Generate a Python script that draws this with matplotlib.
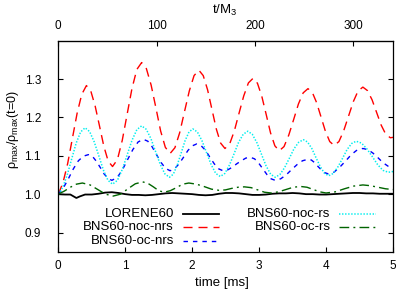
import numpy as np
import matplotlib
matplotlib.use("Agg")
import matplotlib.pyplot as plt

plt.rcParams['font.family'] = ['Liberation Sans', 'DejaVu Sans']
plt.rcParams['mathtext.fontset'] = 'custom'
plt.rcParams['mathtext.rm'] = 'Liberation Sans'
plt.rcParams['lines.scale_dashes'] = False

# --- data (time in ms, rho_max / rho_max(t=0)) ---
lorene_t = [0, 0.1, 0.18, 0.22, 0.27, 0.32, 0.4, 0.5, 0.6, 0.7, 0.8, 0.9, 1.0,
            1.1, 1.2, 1.3, 1.4, 1.5, 1.6, 1.7, 1.8, 1.9, 2.0, 2.1, 2.2, 2.3,
            2.4, 2.5, 2.6, 2.7, 2.8, 2.9, 3.0, 3.1, 3.2, 3.3, 3.4, 3.5, 3.6,
            3.7, 3.8, 3.9, 4.0, 4.1, 4.2, 4.3, 4.4, 4.5, 4.6, 4.7, 4.8, 4.9, 5.0]
lorene_v = [1.000, 0.999, 0.999, 0.995, 0.990, 0.994, 0.999, 0.999, 1.001,
            1.004, 1.005, 1.003, 1.000, 0.998, 0.998, 0.997, 0.998, 1.000,
            1.002, 1.003, 1.002, 1.001, 1.000, 0.998, 0.997, 0.998, 1.001,
            1.003, 1.003, 1.002, 1.000, 0.998, 0.998, 0.999, 1.001, 1.002,
            1.002, 1.003, 1.002, 1.000, 1.000, 0.999, 0.999, 1.000, 1.001,
            1.002, 1.003, 1.003, 1.002, 1.002, 1.001, 1.001, 1.001]

noc_nrs_t = [0, 0.07, 0.14, 0.21, 0.28, 0.35, 0.42,
             0.485, 0.55, 0.615, 0.68, 0.745, 0.81,
             0.883, 0.955, 1.028, 1.10, 1.173, 1.245,
             1.316, 1.387, 1.458, 1.528, 1.599, 1.67,
             1.742, 1.813, 1.885, 1.957, 2.028, 2.10,
             2.165, 2.23, 2.295, 2.36, 2.425, 2.49,
             2.56, 2.63, 2.70, 2.77, 2.84, 2.91,
             2.975, 3.04, 3.105, 3.17, 3.235, 3.30,
             3.372, 3.443, 3.515, 3.587, 3.658, 3.73,
             3.795, 3.86, 3.925, 3.99, 4.055, 4.12,
             4.192, 4.263, 4.335, 4.407, 4.478, 4.55,
             4.618, 4.687, 4.755, 4.823, 4.892, 4.96, 5.0]
noc_nrs_v = [1.000, 1.030, 1.080, 1.145, 1.210, 1.260, 1.283,
             1.269, 1.230, 1.178, 1.125, 1.086, 1.072,
             1.090, 1.140, 1.208, 1.275, 1.325, 1.343,
             1.327, 1.284, 1.225, 1.165, 1.122, 1.106,
             1.121, 1.160, 1.215, 1.269, 1.309, 1.323,
             1.309, 1.272, 1.221, 1.170, 1.133, 1.119,
             1.131, 1.165, 1.211, 1.256, 1.290, 1.302,
             1.289, 1.255, 1.208, 1.160, 1.126, 1.113,
             1.124, 1.154, 1.194, 1.235, 1.264, 1.275,
             1.265, 1.238, 1.201, 1.164, 1.137, 1.127,
             1.137, 1.165, 1.203, 1.241, 1.269, 1.279,
             1.270, 1.246, 1.213, 1.180, 1.156, 1.147, 1.148]

oc_nrs_t = [0, 0.075, 0.15, 0.225, 0.3, 0.375, 0.45,
            0.508, 0.567, 0.625, 0.683, 0.742, 0.80,
            0.878, 0.957, 1.035, 1.113, 1.192, 1.27,
            1.337, 1.403, 1.47, 1.537, 1.603, 1.67,
            1.737, 1.803, 1.87, 1.937, 2.003, 2.07,
            2.135, 2.20, 2.265, 2.33, 2.395, 2.46,
            2.528, 2.597, 2.665, 2.733, 2.802, 2.87,
            2.932, 2.993, 3.055, 3.117, 3.178, 3.24,
            3.322, 3.403, 3.485, 3.567, 3.648, 3.73,
            3.78, 3.83, 3.88, 3.93, 3.98, 4.03,
            4.117, 4.203, 4.29, 4.377, 4.463, 4.55,
            4.625, 4.70, 4.775, 4.85, 4.925, 5.0]
oc_nrs_v = [1.000, 1.016, 1.040, 1.066, 1.087, 1.099, 1.103,
            1.099, 1.086, 1.070, 1.053, 1.041, 1.036,
            1.043, 1.063, 1.090, 1.116, 1.136, 1.143,
            1.138, 1.123, 1.102, 1.082, 1.067, 1.061,
            1.066, 1.079, 1.096, 1.114, 1.126, 1.131,
            1.126, 1.114, 1.096, 1.079, 1.066, 1.061,
            1.063, 1.070, 1.079, 1.087, 1.094, 1.096,
            1.092, 1.081, 1.066, 1.051, 1.040, 1.036,
            1.040, 1.050, 1.064, 1.077, 1.087, 1.091,
            1.089, 1.082, 1.072, 1.063, 1.056, 1.053,
            1.057, 1.070, 1.086, 1.103, 1.115, 1.119,
            1.116, 1.107, 1.095, 1.082, 1.073, 1.070]

noc_rs_t = [0, 0.067, 0.133, 0.2, 0.267, 0.333, 0.40,
            0.468, 0.537, 0.605, 0.673, 0.742, 0.81,
            0.883, 0.955, 1.028, 1.100, 1.173, 1.245,
            1.314, 1.383, 1.453, 1.522, 1.591, 1.66,
            1.718, 1.777, 1.835, 1.893, 1.952, 2.01,
            2.078, 2.147, 2.215, 2.283, 2.352, 2.42,
            2.488, 2.557, 2.625, 2.693, 2.762, 2.83,
            2.898, 2.967, 3.035, 3.103, 3.172, 3.24,
            3.31, 3.38, 3.45, 3.52, 3.59, 3.66,
            3.723, 3.787, 3.85, 3.913, 3.977, 4.04,
            4.108, 4.177, 4.245, 4.313, 4.382, 4.45,
            4.53, 4.61, 4.69, 4.77, 4.85, 4.93, 5.0]
noc_rs_v = [1.000, 1.018, 1.050, 1.092, 1.133, 1.162, 1.173,
            1.163, 1.136, 1.100, 1.063, 1.036, 1.026,
            1.036, 1.064, 1.102, 1.140, 1.168, 1.178,
            1.169, 1.145, 1.111, 1.078, 1.053, 1.044,
            1.052, 1.076, 1.107, 1.139, 1.162, 1.170,
            1.162, 1.139, 1.108, 1.077, 1.054, 1.046,
            1.054, 1.076, 1.105, 1.135, 1.156, 1.164,
            1.156, 1.134, 1.104, 1.074, 1.052, 1.044,
            1.051, 1.069, 1.093, 1.118, 1.135, 1.142,
            1.136, 1.119, 1.095, 1.072, 1.054, 1.048,
            1.054, 1.071, 1.093, 1.116, 1.132, 1.138,
            1.133, 1.118, 1.098, 1.077, 1.062, 1.057, 1.059]

oc_rs_t = [0, 0.09, 0.18, 0.27, 0.36,
           0.475, 0.59, 0.705, 0.82,
           0.93, 1.04, 1.15, 1.26,
           1.34, 1.42, 1.50, 1.58,
           1.673, 1.765, 1.858, 1.95,
           2.063, 2.175, 2.288, 2.40,
           2.495, 2.59, 2.685, 2.78,
           2.88, 2.98, 3.08, 3.18,
           3.29, 3.40, 3.51, 3.62,
           3.715, 3.81, 3.905, 4.00,
           4.138, 4.275, 4.413, 4.55,
           4.663, 4.775, 4.888, 5.0]
oc_rs_v = [1.000, 1.008, 1.018, 1.026, 1.029,
           1.024, 1.012, 1.000, 0.995,
           1.000, 1.014, 1.027, 1.032,
           1.028, 1.019, 1.009, 1.005,
           1.009, 1.017, 1.026, 1.029,
           1.026, 1.020, 1.013, 1.010,
           1.011, 1.015, 1.018, 1.019,
           1.017, 1.011, 1.005, 1.003,
           1.006, 1.012, 1.018, 1.020,
           1.018, 1.012, 1.006, 1.003,
           1.006, 1.014, 1.021, 1.024,
           1.022, 1.018, 1.014, 1.012]

labels = ['LORENE60', 'BNS60-noc-nrs', 'BNS60-oc-nrs', 'BNS60-noc-rs', 'BNS60-oc-rs']
ms_to_M = 68.13   # t/M_3 per ms

series = [
    (lorene_t, lorene_v, dict(color='black', lw=1.3, ls='-')),
    (noc_nrs_t, noc_nrs_v, dict(color='#ff0000', lw=1.0, dashes=(6.5, 4.3))),
    (oc_nrs_t, oc_nrs_v, dict(color='#0000ff', lw=1.0, dashes=(3.2, 3.6))),
    (noc_rs_t, noc_rs_v, dict(color='#00eeee', lw=1.1, dashes=(1.0, 1.2))),
    (oc_rs_t, oc_rs_v, dict(color='#006400', lw=1.0, dashes=(7.0, 3.0, 1.4, 3.0))),
]

fs_tick = 8.5
fs_text = 9.5

fig = plt.figure(figsize=(4.15, 2.95), dpi=100)
ax = fig.add_axes([0.1405, 0.1468, 0.8065, 0.7153])

for t, v, style in series:
    ax.plot(t, v, **style)

ax.set_xlim(0, 5)
ax.set_ylim(0.85, 1.4)
ax.set_xticks([0, 1, 2, 3, 4, 5])
ax.set_yticks([0.9, 1.0, 1.1, 1.2, 1.3])
ax.set_yticklabels(['0.9', '1.0', '1.1', '1.2', '1.3'])
ax.tick_params(axis='both', direction='in', length=3.5, width=0.8, labelsize=fs_tick)
ax.tick_params(axis='y', right=True, pad=12.5)
ax.tick_params(axis='x', top=False, pad=6)
for sp in ax.spines.values():
    sp.set_linewidth(0.9)

ax.set_xlabel('time [ms]', fontsize=fs_text)
ax.xaxis.set_label_coords(0.488, -0.118)
ax.set_ylabel('ρ$_{\\mathregular{max}}$/ρ$_{\\mathregular{max}}$(t=0)', fontsize=9)
ax.yaxis.set_label_coords(-0.112, 0.58)

# top axis in units of M_3
sec = ax.secondary_xaxis('top', functions=(lambda x: x * ms_to_M, lambda m: m / ms_to_M))
sec.set_xticks([0, 100, 200, 300])
sec.tick_params(direction='in', length=3.5, width=0.8, labelsize=fs_tick, pad=6.5)
sec.set_xlabel('t/M$_{\\mathregular{3}}$', fontsize=fs_text)
sec.xaxis.label.set_va('top')
sec.xaxis.set_label_coords(0.498, 1.178, transform=ax.transAxes)

# gnuplot-style key: text right-aligned, sample to its right
key_rows = [0.1787, 0.1156, 0.0493]
key_cols = [(0.3457, 0.3717, 0.4810), (0.8139, 0.8396, 0.9492)]
slots = [(0, 0), (0, 1), (0, 2), (1, 0), (1, 1)]
for (t, v, style), label, (c, r) in zip(series, labels, slots):
    tx, x0, x1 = key_cols[c]
    y = key_rows[r]
    ax.text(tx, y, label, transform=ax.transAxes, ha='right', va='center', fontsize=fs_text)
    ax.plot([x0, x1], [y, y], transform=ax.transAxes, clip_on=False, **style)

fig.savefig('out.png', dpi=100)
